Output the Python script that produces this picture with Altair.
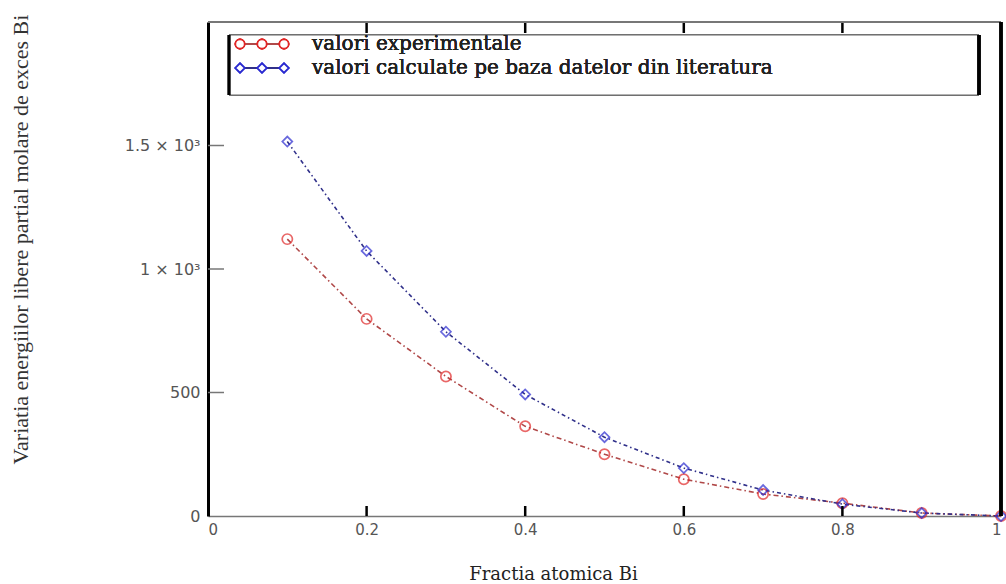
import altair as alt
import pandas as pd

# Atomic fraction of Bi and the excess partial molar free energy change of Bi
fractia = [0.1, 0.2, 0.3, 0.4, 0.5, 0.6, 0.7, 0.8, 0.9, 1.0]
experimentale = [1121, 798, 565, 363, 250, 149, 89, 52, 12, 0]
literatura = [1516, 1073, 746, 492, 319, 194, 105, 48, 12, 0]
serii = ["valori experimentale", "valori calculate pe baza datelor din literatura"]

x_ticks = [0, 0.2, 0.4, 0.6, 0.8, 1]
y_ticks = [0, 500, 1000, 1500]

W, H = 793, 494
RED, RED_LINE = "#e02828", "#b04848"
BLUE, BLUE_LINE = "#2a2ad0", "#30308a"

df_exp = pd.DataFrame({"x": fractia, "y": experimentale})
df_lit = pd.DataFrame({"x": fractia, "y": literatura})

xs = alt.Scale(domain=[0, 1], nice=False, zero=False)
ys = alt.Scale(domain=[0, 2000], nice=False)

x_axis = alt.Axis(
    values=x_ticks, labelExpr="datum.value == 0 ? '0' : datum.value == 1 ? '1' : format(datum.value, '.1f')",
    ticks=False, grid=False, domainColor="#777777", domainWidth=1.5,
    labelFont="DejaVu Sans", labelFontSize=15, labelColor="#555555", labelPadding=6,
    title="Fractia atomica Bi", titleFont="DejaVu Serif", titleFontSize=18,
    titleFontWeight="normal", titleColor="#222222", titleX=345, titleY=63,
    titleAlign="center", titleBaseline="alphabetic",
)
y_axis = alt.Axis(
    values=y_ticks,
    labelExpr="datum.value == 1500 ? '1.5 \u00d7 10\u00b3' : datum.value == 1000 ? '1 \u00d7 10\u00b3' : datum.label",
    ticks=False, grid=False, domainColor="#000000", domainWidth=3,
    labelFont="DejaVu Sans", labelFontSize=16, labelColor="#555555", labelPadding=8,
    title="Variatia energiilor libere partial molare  de exces Bi", titleFont="Liberation Serif",
    titleFontSize=22, titleFontWeight="normal", titleColor="#333333",
    titleAngle=270, titleX=-188, titleY=217, titleAlign="center", titleBaseline="middle",
)

X = alt.X("x:Q", scale=xs, axis=x_axis)
Y = alt.Y("y:Q", scale=ys, axis=y_axis)

line_exp = alt.Chart(df_exp).mark_line(
    color=RED_LINE, strokeWidth=1.6, strokeDash=[5, 3, 1.5, 3]
).encode(x=X, y=Y)
pts_exp = alt.Chart(df_exp).mark_point(
    shape="circle", filled=False, color=RED, size=105, strokeWidth=1.7
).encode(x=X, y=Y)

line_lit = alt.Chart(df_lit).mark_line(
    color=BLUE_LINE, strokeWidth=1.6, strokeDash=[4, 3, 1.5, 3]
).encode(x=X, y=Y)
pts_lit = alt.Chart(df_lit).mark_point(
    shape="diamond", filled=False, color=BLUE, size=100, strokeWidth=1.7
).encode(x=X, y=Y)

# inward tick marks on the frame
xt = pd.DataFrame({"x": x_ticks[1:-1]})
yt = pd.DataFrame({"y": y_ticks[1:]})
ticks_top = alt.Chart(xt).mark_rule(color="#000000", strokeWidth=2.5).encode(
    x=X, y=alt.value(0), y2=alt.value(11))
ticks_bottom = alt.Chart(xt).mark_rule(color="#000000", strokeWidth=2.5).encode(
    x=X, y=alt.value(H - 10), y2=alt.value(H))
ticks_left = alt.Chart(yt).mark_rule(color="#777777", strokeWidth=1.5).encode(
    y=Y, x=alt.value(0), x2=alt.value(16))

# remaining frame sides
frame_top = alt.Chart(xt).mark_rule(color="#777777", strokeWidth=1.5).encode(
    x=alt.value(0), x2=alt.value(W), y=alt.value(0))
frame_right = alt.Chart(xt).mark_rule(color="#000000", strokeWidth=3).encode(
    x=alt.value(W), y=alt.value(0), y2=alt.value(H))

# legend box
LX0, LX1, LY0, LY1 = 21, 771, 13, 73
leg_box = alt.Chart(xt).mark_rect(fill="white", stroke="#666666", strokeWidth=1).encode(
    x=alt.value(LX0), x2=alt.value(LX1), y=alt.value(LY0), y2=alt.value(LY1))
leg_left = alt.Chart(xt).mark_rule(color="#000000", strokeWidth=2.5).encode(
    x=alt.value(LX0), y=alt.value(LY0), y2=alt.value(LY1))
leg_right = alt.Chart(xt).mark_rule(color="#000000", strokeWidth=3).encode(
    x=alt.value(LX1), y=alt.value(LY0), y2=alt.value(LY1))

legend_layers = []
for serie, ly, shape, col, lcol in [
    (serii[0], 22, "circle", RED, RED_LINE),
    (serii[1], 46, "diamond", BLUE, BLUE_LINE),
]:
    legend_layers.append(alt.Chart(xt).mark_rule(color=lcol, strokeWidth=1.3).encode(
        x=alt.value(32), x2=alt.value(76), y=alt.value(ly)))
    for sx in (32, 54, 76):
        legend_layers.append(alt.Chart(xt).mark_point(
            shape=shape, filled=False, color=col, size=85, strokeWidth=1.6, fill="white", fillOpacity=1
        ).encode(x=alt.value(sx), y=alt.value(ly)))
    legend_layers.append(alt.Chart(xt).mark_text(
        text=serie, align="left", baseline="middle", font="DejaVu Serif", fontSize=20, color="#222222"
    ).encode(x=alt.value(104), y=alt.value(ly)))

chart = alt.layer(
    line_exp, line_lit, pts_exp, pts_lit,
    ticks_top, ticks_bottom, ticks_left, frame_top, frame_right,
    leg_box, leg_left, leg_right, *legend_layers,
).properties(
    width=W, height=H,
    padding={"left": 208, "top": 22, "right": 5, "bottom": 68},
    autosize=alt.AutoSizeParams(type="none"),
).configure(background="white").configure_view(stroke=None)

chart.save("out.html", embed_options={"renderer": "svg", "actions": False})
